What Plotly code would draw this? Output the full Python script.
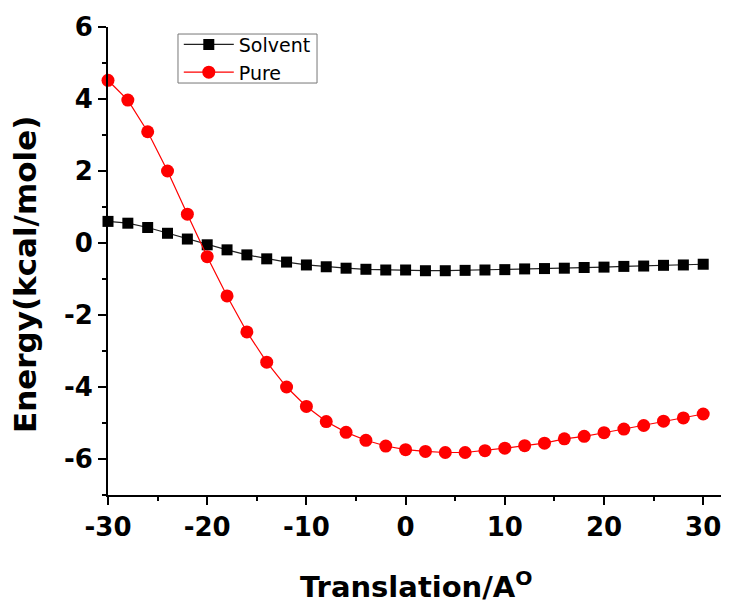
import plotly.graph_objects as go

translation = [-30, -28, -26, -24, -22, -20, -18, -16, -14, -12, -10, -8, -6, -4, -2,
               0, 2, 4, 6, 8, 10, 12, 14, 16, 18, 20, 22, 24, 26, 28, 30]

solvent = [0.60, 0.55, 0.43, 0.27, 0.11, -0.05, -0.19, -0.33, -0.44, -0.53, -0.61,
           -0.66, -0.70, -0.73, -0.75, -0.75, -0.77, -0.77, -0.76, -0.75, -0.74,
           -0.72, -0.71, -0.70, -0.68, -0.67, -0.65, -0.64, -0.62, -0.61, -0.59]

pure = [4.52, 3.97, 3.09, 2.00, 0.80, -0.38, -1.47, -2.47, -3.31, -4.00, -4.54,
        -4.96, -5.26, -5.48, -5.64, -5.74, -5.79, -5.82, -5.82, -5.77, -5.70,
        -5.63, -5.56, -5.44, -5.37, -5.27, -5.17, -5.07, -4.95, -4.86, -4.75]

x_ticks = [-30, -20, -10, 0, 10, 20, 30]
y_ticks = [-6, -4, -2, 0, 2, 4, 6]

FONT = "DejaVu Sans, Arial, sans-serif"

fig = go.Figure()
fig.add_trace(go.Scatter(
    x=translation, y=solvent, mode="lines+markers", name="Solvent",
    line=dict(color="#222222", width=1.2),
    marker=dict(symbol="square", size=11, color="black"),
    cliponaxis=False,
))
fig.add_trace(go.Scatter(
    x=translation, y=pure, mode="lines+markers", name="Pure",
    line=dict(color="red", width=1.2),
    marker=dict(symbol="circle", size=13, color="red"),
    cliponaxis=False,
))

# page body has an 8px margin, so the figure is sized/offset to compensate
fig.update_layout(
    width=721, height=597,
    margin=dict(l=100, r=0, t=19, b=110),
    plot_bgcolor="white", paper_bgcolor="white",
    font=dict(family=FONT, color="black"),
    showlegend=True,
    legend=dict(
        x=0.114, y=1.003, xanchor="left", yanchor="top",
        borderwidth=0, bgcolor="rgba(0,0,0,0)",
        font=dict(family=FONT, size=19, color="black"),
        itemwidth=50, tracegroupgap=0,
    ),
    shapes=[
        dict(type="rect", xref="paper", yref="paper",
             x0=0.1127, x1=0.3366, y0=0.8803, y1=0.985,
             line=dict(color="#777777", width=1), fillcolor="rgba(0,0,0,0)", layer="below"),
    ],
    xaxis=dict(
        range=[-30, 32.6], tickvals=x_ticks, ticktext=[str(v) for v in x_ticks],
        showgrid=False, zeroline=False, showline=True, linecolor="black", linewidth=2,
        ticks="outside", ticklen=8, tickwidth=2, tickcolor="black",
        tickfont=dict(family=FONT, size=26, color="black", weight="bold"),
        minor=dict(dtick=5, tick0=0, ticks="outside", ticklen=4, tickwidth=1.5, tickcolor="black"),
    ),
    yaxis=dict(
        range=[-7, 6], tickvals=y_ticks, ticktext=[str(v) for v in y_ticks],
        showgrid=False, zeroline=False, showline=True, linecolor="black", linewidth=2,
        ticks="outside", ticklen=8, tickwidth=2, tickcolor="black",
        tickfont=dict(family=FONT, size=26, color="black", weight="bold"),
        minor=dict(dtick=1, tick0=0, ticks="outside", ticklen=4, tickwidth=1.5, tickcolor="black"),
    ),
    annotations=[
        dict(text="<b>Translation/A<sup>O</sup></b>", xref="paper", yref="paper",
             x=0.497, y=0, yshift=-90, xanchor="center", yanchor="middle", showarrow=False,
             font=dict(family=FONT, size=29, color="black")),
        dict(text="<b>Energy(kcal/mole)</b>", xref="paper", yref="paper",
             x=0, xshift=-83, y=0.47, xanchor="center", yanchor="middle", textangle=-90,
             showarrow=False, font=dict(family=FONT, size=31, color="black")),
    ],
)

fig.write_html("out.html")
